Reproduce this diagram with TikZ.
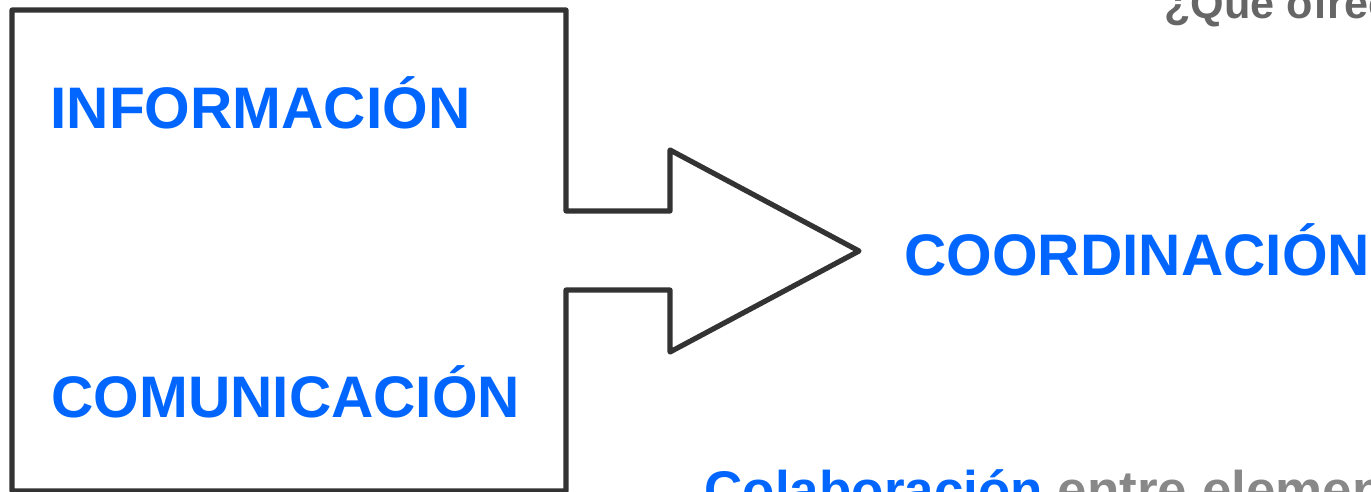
\documentclass[tikz,border=0pt]{standalone}
\usepackage{fontspec}
\setmainfont{Liberation Sans}
\definecolor{lineC}{HTML}{333333}
\definecolor{blueC}{HTML}{0066FF}
\definecolor{grayA}{HTML}{666666}
\definecolor{grayB}{HTML}{888888}
\begin{document}
\begin{tikzpicture}[x=0.5pt,y=-0.5pt,
  bigtext/.style={font=\fontsize{29.3}{34}\selectfont\bfseries, inner sep=0pt, anchor=base west},
  outline/.style={draw=lineC, line width=2.6pt, line join=round}]
\useasboundingbox (0,0) rectangle (1371,492);
\draw[outline] (12,10) -- (566,10) -- (566,211) -- (670,211) -- (670,150) -- (859,251)
  -- (670,352) -- (670,290) -- (566,290) -- (566,491) -- (12,491) -- cycle;
\node[bigtext, text=blueC] (info) at (50,128) {INFORMACIÓN};
\node[bigtext, text=blueC] (comu) at (51,417) {COMUNICACIÓN};
\node[bigtext, text=blueC] (coord) at (904,275) {COORDINACIÓN};
\node[font=\fontsize{26.5}{31}\selectfont\bfseries, inner sep=0pt, anchor=base west, text=blueC] (colab) at (704,508) {Colaboración \textcolor{grayB}{entre elementos}};
\node[font=\fontsize{21.6}{26}\selectfont\bfseries, inner sep=0pt, anchor=base west, text=grayA] (que) at (1164,19) {¿Qué ofrece?};
\end{tikzpicture}
\end{document}
